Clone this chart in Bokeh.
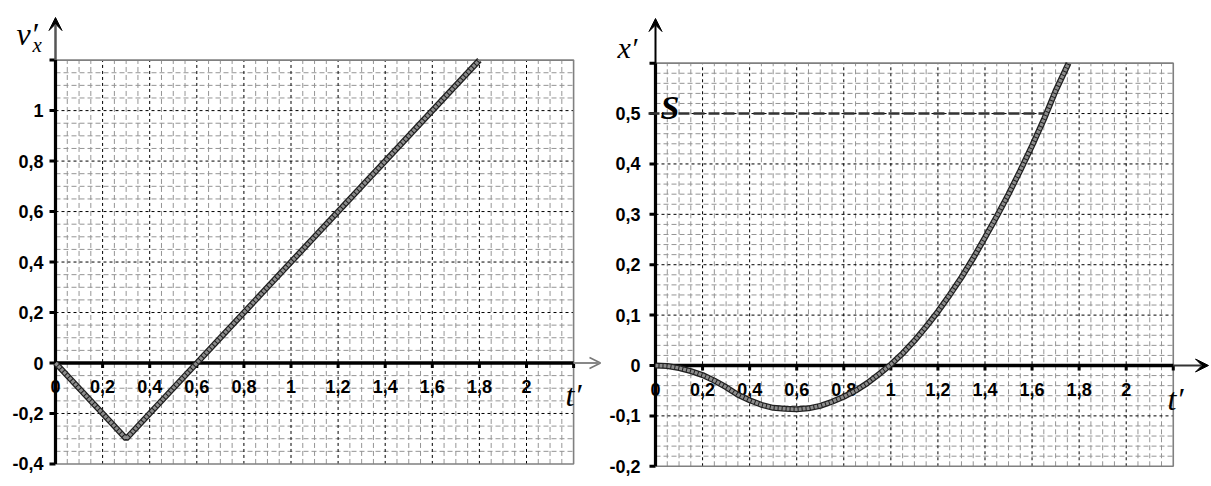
import numpy as np
from bokeh.plotting import figure
from bokeh.layouts import row
from bokeh.models import Range1d, Arrow, VeeHead, OpenHead
from bokeh.core.properties import value
from bokeh.embed import file_html
from bokeh.resources import INLINE

# ---------------- data ----------------
vx_t = [0.0, 0.3, 1.8]
vx_v = [0.0, -0.3, 1.2]

x_t = [0.0, 0.05, 0.1, 0.15, 0.2, 0.25, 0.3, 0.35, 0.4, 0.45, 0.5, 0.55, 0.6,
       0.65, 0.7, 0.75, 0.8, 0.85, 0.9, 0.95, 1.0, 1.05, 1.1, 1.15, 1.2, 1.25,
       1.3, 1.35, 1.4, 1.45, 1.5, 1.55, 1.6, 1.65, 1.7, 1.755]
x_x = [0.0, -0.001, -0.005, -0.011, -0.019, -0.030, -0.043, -0.058, -0.069,
       -0.078, -0.084, -0.086, -0.087, -0.085, -0.080, -0.072, -0.062, -0.050,
       -0.035, -0.017, 0.002, 0.024, 0.049, 0.077, 0.107, 0.140, 0.175, 0.213,
       0.254, 0.296, 0.340, 0.387, 0.436, 0.488, 0.545, 0.600]

s_level = 0.5
s_t = 1.665

x_ticks = [0.2, 0.4, 0.6, 0.8, 1.0, 1.2, 1.4, 1.6, 1.8, 2.0]
x_tick_labels = ["0,2", "0,4", "0,6", "0,8", "1", "1,2", "1,4", "1,6", "1,8", "2"]

left_y_ticks = [-0.4, -0.2, 0.0, 0.2, 0.4, 0.6, 0.8, 1.0]
left_y_labels = ["-0,4", "-0,2", "0", "0,2", "0,4", "0,6", "0,8", "1"]

right_y_ticks = [-0.2, -0.1, 0.0, 0.1, 0.2, 0.3, 0.4, 0.5]
right_y_labels = ["-0,2", "-0,1", "0", "0,1", "0,2", "0,3", "0,4", "0,5"]

# ---------------- styling constants ----------------
H = 486
TOP = 0
LAB_FONT = value("Liberation Sans")
TTL_FONT = value("Liberation Serif")
MINOR_C = "#959595"
BORDER_C = "#808080"


def make_panel(left_px, width, x0_px, y0_px, xpx, ypx, xmax, ymin, ymax,
               ystep_major, ystep_minor, yticks, ylabels, ylab_px, xlab_py,
               arrow_style):
    X = lambda sx: (sx - x0_px) / xpx
    Y = lambda sy: (y0_px - sy) / ypx
    p = figure(width=width, height=H, output_backend="svg", toolbar_location=None,
               x_range=Range1d(X(left_px), X(left_px + width)),
               y_range=Range1d(Y(TOP + H), Y(TOP)),
               x_axis_location=None, y_axis_location=None,
               min_border=0, outline_line_color=None)
    p.xgrid.visible = False
    p.ygrid.visible = False

    # minor grid
    xs_minor = [v for v in np.arange(0.05, xmax - 1e-9, 0.05)
                if abs(v / 0.2 - round(v / 0.2)) > 1e-6]
    p.segment(x0=xs_minor, y0=[ymin] * len(xs_minor), x1=xs_minor, y1=[ymax] * len(xs_minor),
              line_color=MINOR_C, line_width=1, line_dash="5 3")
    ys_minor = [v for v in np.arange(ymin + ystep_minor, ymax - 1e-9, ystep_minor)
                if abs(v / ystep_major - round(v / ystep_major)) > 1e-6]
    p.segment(x0=[0] * len(ys_minor), y0=ys_minor, x1=[xmax] * len(ys_minor), y1=ys_minor,
              line_color=MINOR_C, line_width=1, line_dash="5 3")
    # major grid
    p.segment(x0=x_ticks, y0=[ymin] * len(x_ticks), x1=x_ticks, y1=[ymax] * len(x_ticks),
              line_color="black", line_width=1, line_dash="3 3")
    ys_major = [v for v in np.arange(ymin + ystep_major, ymax - 1e-9, ystep_major)
                if abs(v) > 1e-6]
    p.segment(x0=[0] * len(ys_major), y0=ys_major, x1=[xmax] * len(ys_major), y1=ys_major,
              line_color="black", line_width=1, line_dash="3 3")
    # border
    p.line([0, xmax, xmax, 0], [ymax, ymax, ymin, ymin], line_color=BORDER_C, line_width=1.6)

    # axes
    p.line([0, 0], [ymin, ymax], line_color="black", line_width=3.2)
    p.line([0, xmax], [0, 0], line_color="black", line_width=3.5)
    # y ticks
    yt_all = list(yticks) + [ymax]
    p.segment(x0=[X(x0_px - 6)] * len(yt_all), y0=yt_all, x1=[0] * len(yt_all), y1=yt_all,
              line_color="black", line_width=3)
    # x ticks
    xt_all = list(x_ticks) + [xmax]
    p.segment(x0=xt_all, y0=[0] * len(xt_all), x1=xt_all, y1=[Y(y0_px + 5)] * len(xt_all),
              line_color="black", line_width=3)

    # tick labels
    p.text(x=[X(ylab_px)] * len(yticks), y=yticks, text=ylabels, text_align="right",
           text_baseline="middle", text_font=LAB_FONT, text_font_style="bold",
           text_font_size="18px", text_color="black")
    p.text(x=[0] + list(x_ticks), y=[Y(xlab_py)] * (len(x_ticks) + 1),
           text=["0"] + list(x_tick_labels), text_align="center",
           text_baseline="middle", text_font=LAB_FONT, text_font_style="bold",
           text_font_size="18px", text_color="black")

    # arrows
    if arrow_style == "left":
        p.add_layout(Arrow(end=VeeHead(size=13, fill_color="black", line_color="black"),
                           x_start=0, y_start=ymax, x_end=0, y_end=Y(17),
                           line_color="#555555", line_width=2.5))
        p.add_layout(Arrow(end=OpenHead(size=11, line_color="#777777", line_width=1.5),
                           x_start=xmax, y_start=0, x_end=X(600), y_end=0,
                           line_color="#888888", line_width=2))
    else:
        p.add_layout(Arrow(end=VeeHead(size=13, fill_color="black", line_color="black"),
                           x_start=0, y_start=ymax, x_end=0, y_end=Y(18),
                           line_color="black", line_width=2))
        p.add_layout(Arrow(end=VeeHead(size=13, fill_color="black", line_color="black"),
                           x_start=xmax, y_start=0, x_end=X(1208), y_end=0,
                           line_color="#333333", line_width=2))
    return p, X, Y


# ---------------- left panel ----------------
pl, XL, YL = make_panel(left_px=0, width=606, x0_px=55, y0_px=362.5, xpx=235.5, ypx=252.4,
                        xmax=2.2, ymin=-0.4, ymax=1.2, ystep_major=0.2, ystep_minor=0.05,
                        yticks=left_y_ticks, ylabels=left_y_labels, ylab_px=43, xlab_py=386,
                        arrow_style="left")
pl.line(vx_t, vx_v, line_color="#202020", line_width=6)
pl.line(vx_t, vx_v, line_color="#8c8c8c", line_width=3.5, line_dash="3 1")

pl.text(x=[XL(16)], y=[YL(33)], text=["v′"], text_font=TTL_FONT, text_font_style="italic",
        text_font_size="32px", text_baseline="alphabetic", text_align="left", text_color="black")
pl.text(x=[XL(32)], y=[YL(44)], text=["x"], text_font=TTL_FONT, text_font_style="italic",
        text_font_size="21px", text_baseline="alphabetic", text_align="left", text_color="black")
pl.text(x=[XL(565)], y=[YL(394)], text=["t′"], text_font=TTL_FONT, text_font_style="italic",
        text_font_size="32px", text_baseline="alphabetic", text_align="left", text_color="black")

# ---------------- right panel ----------------
pr, XR, YR = make_panel(left_px=606, width=605, x0_px=655, y0_px=365, xpx=235.35, ypx=503.9,
                        xmax=2.2, ymin=-0.2, ymax=0.6, ystep_major=0.1, ystep_minor=0.02,
                        yticks=right_y_ticks, ylabels=right_y_labels, ylab_px=640, xlab_py=389,
                        arrow_style="right")
pr.line([XR(648), s_t], [s_level, s_level], line_color="#333333", line_width=2.6,
        line_dash="11 4")
pr.line(x_t, x_x, line_color="#202020", line_width=6)
pr.line(x_t, x_x, line_color="#8c8c8c", line_width=3.5, line_dash="3 1")

pr.text(x=[XR(617)], y=[YR(47)], text=["x′"], text_font=TTL_FONT, text_font_style="italic",
        text_font_size="30px", text_baseline="alphabetic", text_align="left", text_color="black")
pr.text(x=[XR(660)], y=[YR(107)], text=["S"], text_font=TTL_FONT, text_font_style="bold italic",
        text_font_size="34px", text_baseline="alphabetic", text_align="left", text_color="black")
pr.text(x=[XR(1167)], y=[YR(398)], text=["t′"], text_font=TTL_FONT, text_font_style="italic",
        text_font_size="32px", text_baseline="alphabetic", text_align="left", text_color="black")

layout = row(pl, pr)
open("out.html", "w").write(file_html(layout, INLINE))
